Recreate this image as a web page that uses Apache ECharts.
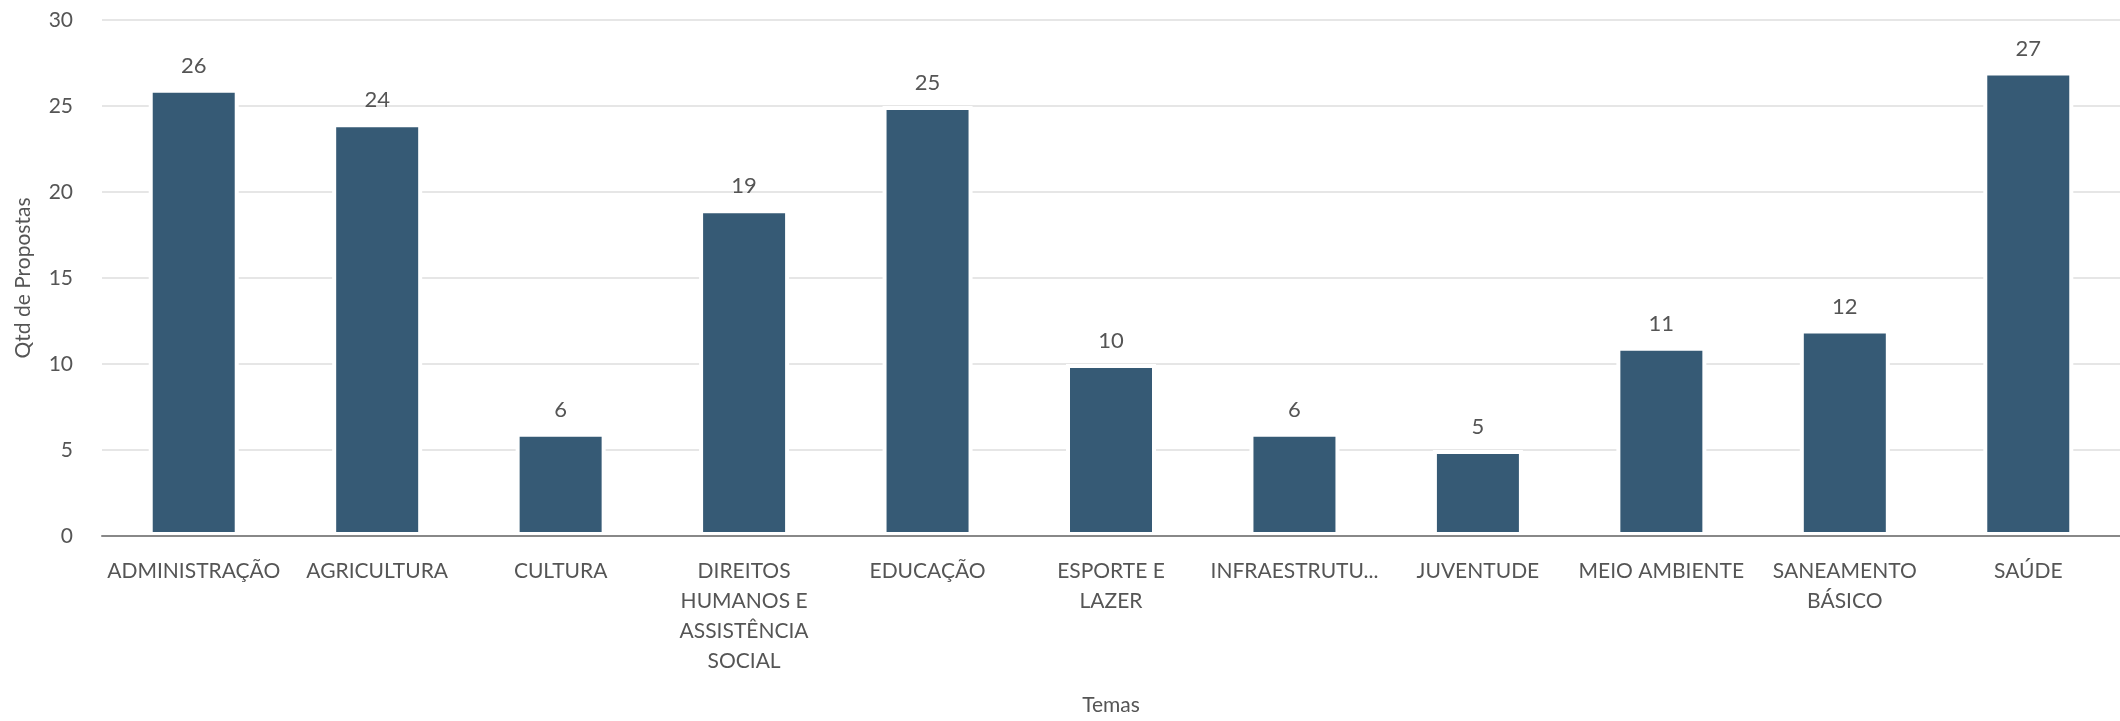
<!DOCTYPE html>
<html>
<head>
<meta charset="utf-8">
<script src="https://cdn.jsdelivr.net/npm/echarts@6/dist/echarts.min.js"></script>
<style>
html,body{margin:0;padding:0;background:#fff;}
#chart{width:2120px;height:721px;}
</style>
</head>
<body>
<div id="chart"></div>
<script>
const categories = ["ADMINISTRAÇÃO","AGRICULTURA","CULTURA","DIREITOS HUMANOS E ASSISTÊNCIA SOCIAL","EDUCAÇÃO","ESPORTE E LAZER","INFRAESTRUTURA","JUVENTUDE","MEIO AMBIENTE","SANEAMENTO BÁSICO","SAÚDE"];
const tickLabels = ["ADMINISTRAÇÃO","AGRICULTURA","CULTURA","DIREITOS\nHUMANOS E\nASSISTÊNCIA\nSOCIAL","EDUCAÇÃO","ESPORTE E\nLAZER","INFRAESTRUTU...","JUVENTUDE","MEIO AMBIENTE","SANEAMENTO\nBÁSICO","SAÚDE"];
const values = [26,24,6,19,25,10,6,5,11,12,27];
const yTicks = [0,5,10,15,20,25,30];

const chart = echarts.init(document.getElementById('chart'), null, {renderer:'canvas'});
const font = 'Lato, "Open Sans", sans-serif';
chart.setOption({
  animation:false,
  textStyle:{fontFamily:font},
  grid:{left:102, top:20, width:2027, height:530, containLabel:false},
  xAxis:{
    type:'category',
    data:categories,
    z:5,
    name:'Temas',
    nameLocation:'middle',
    nameGap:159,
    nameTextStyle:{fontSize:21,color:'#555',fontFamily:font},
    axisLine:{lineStyle:{color:'#888',width:2}},
    axisTick:{show:false},
    axisLabel:{
      interval:0,
      margin:20,
      fontSize:21,
      lineHeight:30,
      color:'#555',
      fontFamily:font,
      formatter:(v,i)=>tickLabels[i]
    }
  },
  yAxis:{
    type:'value',
    min:yTicks[0],
    max:yTicks[yTicks.length-1],
    interval:5,
    name:'Qtd de Propostas',
    nameLocation:'middle',
    nameGap:68,
    nameTextStyle:{fontSize:21,color:'#555',fontFamily:font},
    axisLine:{show:false},
    axisTick:{show:false},
    axisLabel:{fontSize:21,color:'#555',margin:29,fontFamily:font},
    splitLine:{lineStyle:{color:'#e6e6e6',width:2}}
  },
  series:[{
    type:'bar',
    data:values,
    barWidth:90,
    itemStyle:{color:'#365a75',borderColor:'#fff',borderWidth:4},
    label:{show:true,position:'top',distance:12,fontSize:22,color:'#555',fontFamily:font}
  }]
});
</script>
</body>
</html>
